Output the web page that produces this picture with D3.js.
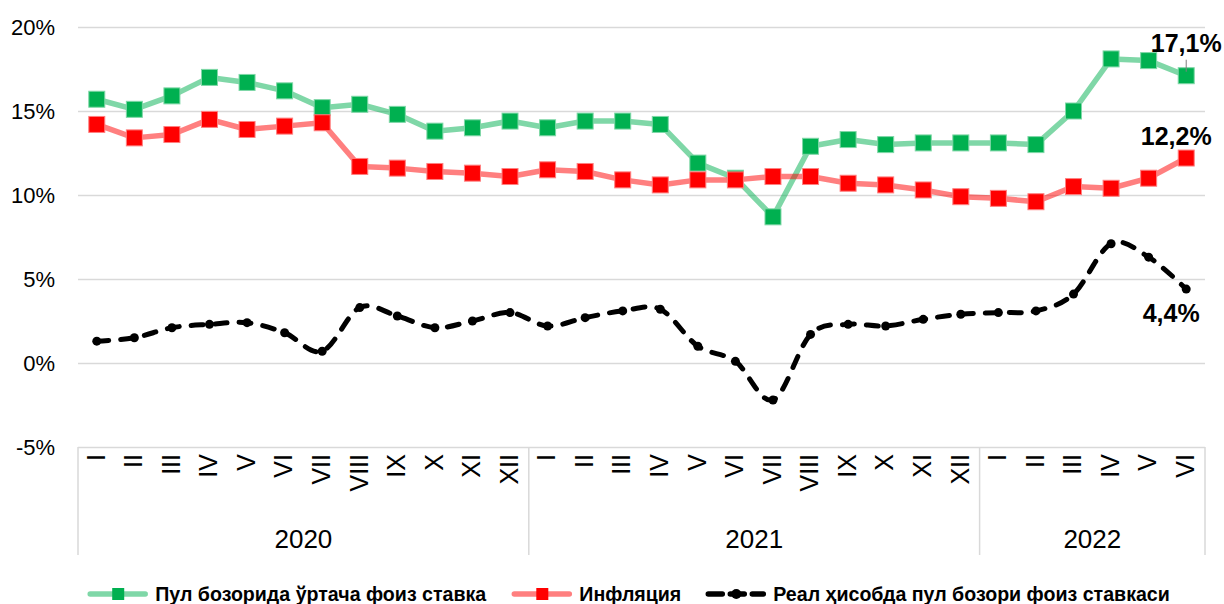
<!DOCTYPE html>
<html>
<head>
<meta charset="utf-8">
<script src="https://cdn.jsdelivr.net/npm/d3@7/dist/d3.min.js"></script>
<style>
  html, body { margin: 0; padding: 0; background: #fff; }
  svg { display: block; font-family: "Liberation Sans", Arial, sans-serif; }
</style>
</head>
<body>
<svg id="chart" width="1224" height="604"></svg>
<script>
// ---- data ----
const months = ["I","II","III","IV","V","VI","VII","VIII","IX","X","XI","XII",
                "I","II","III","IV","V","VI","VII","VIII","IX","X","XI","XII",
                "I","II","III","IV","V","VI"];
const years = ["2020","2021","2022"];
const yearCounts = [12, 12, 6];
const yTicks = [-5, 0, 5, 10, 15, 20];

const moneyRate = [15.7,15.1,15.9,17.0,16.7,16.2,15.2,15.4,14.8,13.8,14.0,14.4,
                   14.0,14.4,14.4,14.2,11.9,11.0,8.7,12.9,13.3,13.0,13.1,13.1,
                   13.1,13.0,15.0,18.1,18.0,17.1];
const inflation = [14.2,13.4,13.6,14.5,13.9,14.1,14.3,11.7,11.6,11.4,11.3,11.1,
                   11.5,11.4,10.9,10.6,10.9,10.9,11.1,11.1,10.7,10.6,10.3,9.9,
                   9.8,9.6,10.5,10.4,11.0,12.2];
const realRate = [1.3,1.5,2.1,2.3,2.4,1.8,0.7,3.3,2.8,2.1,2.5,3.0,
                  2.2,2.7,3.1,3.2,1.0,0.1,-2.2,1.7,2.3,2.2,2.6,2.9,
                  3.0,3.1,4.1,7.1,6.3,4.4];
const seriesNames = ["Пул бозорида ўртача фоиз ставка", "Инфляция", "Реал ҳисобда пул бозори фоиз ставкаси"];
const endLabels = ["17,1%", "12,2%", "4,4%"];

(function() {
// ---- layout ----
const svg = d3.select("#chart");
const L = 78, R = 1205, T = 27, B = 447;
const idx = d3.range(months.length);

const x = d3.scaleBand().domain(idx).range([L, R]).padding(0);
const cx = i => x(i) + x.bandwidth() / 2;
const y = d3.scaleLinear().domain([-5, 20]).range([B, T]);

// gridlines + y labels
const yAxis = d3.axisLeft(y).tickValues(yTicks).tickSize(-(R - L))
  .tickFormat(d => d + "%").tickPadding(23);
const gy = svg.append("g").attr("transform", `translate(${L},0)`).call(yAxis);
gy.select(".domain").remove();
gy.selectAll(".tick line").attr("stroke", "#d9d9d9").attr("stroke-width", 1.5);
gy.selectAll(".tick text").attr("font-size", 22).attr("fill", "#000")
  .attr("font-family", "'Liberation Sans', Arial, sans-serif");

// category separators
const bounds = [0];
yearCounts.forEach((c, k) => bounds.push(bounds[k] + c));
const bx = b => b < months.length ? x(b) : R;
svg.append("g").selectAll("line").data(bounds).join("line")
  .attr("x1", bx).attr("x2", bx)
  .attr("y1", B).attr("y2", 555)
  .attr("stroke", "#d9d9d9").attr("stroke-width", 1.5);

// month labels (rotated)
svg.append("g").selectAll("text").data(idx).join("text")
  .attr("transform", i => `translate(${cx(i) - 1},${B + 7}) rotate(-90)`)
  .attr("text-anchor", "end").attr("dy", "0.35em")
  .attr("font-size", 25).attr("fill", "#000")
  .text(i => months[i]);

// year labels
svg.append("g").selectAll("text").data(years).join("text")
  .attr("x", (d, k) => (bx(bounds[k]) + bx(bounds[k + 1])) / 2)
  .attr("y", 548).attr("text-anchor", "middle")
  .attr("font-size", 26).attr("fill", "#000")
  .text(d => d);

// lines
const line = d3.line().x((d, i) => cx(i)).y(d => y(d));
const smooth = d3.line().x((d, i) => cx(i)).y(d => y(d)).curve(d3.curveCardinal.tension(0));

svg.append("path").datum(moneyRate).attr("d", line)
  .attr("fill", "none").attr("stroke", "#00b050").attr("stroke-opacity", 0.5)
  .attr("stroke-width", 5.5).attr("stroke-linejoin", "round");
svg.append("g").selectAll("rect").data(moneyRate).join("rect")
  .attr("x", (d, i) => cx(i) - 8).attr("y", d => y(d) - 8)
  .attr("width", 16).attr("height", 16)
  .attr("fill", "#00b050").attr("stroke", "#7fd7a7").attr("stroke-width", 1);

svg.append("path").datum(inflation).attr("d", line)
  .attr("fill", "none").attr("stroke", "#ff0000").attr("stroke-opacity", 0.5)
  .attr("stroke-width", 5.5).attr("stroke-linejoin", "round");
svg.append("g").selectAll("rect").data(inflation).join("rect")
  .attr("x", (d, i) => cx(i) - 8).attr("y", d => y(d) - 8)
  .attr("width", 16).attr("height", 16)
  .attr("fill", "#ff0000").attr("stroke", "#ff8080").attr("stroke-width", 1);

svg.append("path").datum(realRate).attr("d", smooth)
  .attr("fill", "none").attr("stroke", "#000")
  .attr("stroke-width", 5).attr("stroke-dasharray", "12,12").attr("stroke-linecap", "round");
svg.append("g").selectAll("circle").data(realRate).join("circle")
  .attr("cx", (d, i) => cx(i)).attr("cy", d => y(d)).attr("r", 4.5).attr("fill", "#000");

// end labels
const last = months.length - 1;
svg.append("line").attr("x1", cx(last)).attr("x2", cx(last))
  .attr("y1", y(moneyRate[last]) - 16).attr("y2", y(moneyRate[last]) - 4)
  .attr("stroke", "#7f7f7f").attr("stroke-width", 1);
svg.append("text").attr("x", cx(last)).attr("y", 52).attr("text-anchor", "middle")
  .attr("font-size", 25).attr("font-weight", "bold").text(endLabels[0]);
svg.append("text").attr("x", cx(last) - 10).attr("y", 145).attr("text-anchor", "middle")
  .attr("font-size", 25).attr("font-weight", "bold").text(endLabels[1]);
svg.append("text").attr("x", cx(last) - 15).attr("y", 322).attr("text-anchor", "middle")
  .attr("font-size", 25).attr("font-weight", "bold").text(endLabels[2]);

// legend
const legend = svg.append("g");
const styles = [
  {line: "#00b050", op: 0.5, marker: "rect", fill: "#00b050", dash: null},
  {line: "#ff0000", op: 0.5, marker: "rect", fill: "#ff0000", dash: null},
  {line: "#000", op: 1, marker: "circle", fill: "#000", dash: "14,8"}
];
const items = legend.selectAll("g").data(seriesNames).join("g");
items.each(function(name, k) {
  const g = d3.select(this);
  const s = styles[k];
  g.append("line").attr("x1", 0).attr("x2", 55).attr("y1", 0).attr("y2", 0)
    .attr("stroke", s.line).attr("stroke-opacity", s.op).attr("stroke-width", 5.5)
    .attr("stroke-linecap", "round")
    .attr("stroke-dasharray", s.dash);
  if (s.marker === "rect") {
    g.append("rect").attr("x", 22).attr("y", -6).attr("width", 12).attr("height", 12).attr("fill", s.fill);
  } else {
    g.append("circle").attr("cx", 28).attr("cy", 0).attr("r", 5).attr("fill", s.fill);
  }
  g.append("text").attr("x", 65).attr("y", 0).attr("dy", "0.35em")
    .attr("font-size", 19.6).attr("font-weight", "bold").attr("fill", "#000").text(name);
});
const widths = [];
items.each(function() { widths.push(this.getBBox().width); });
const gap = 27;
const total = d3.sum(widths) + gap * (widths.length - 1);
let pos = 630 - total / 2;
items.attr("transform", (d, k) => {
  const t = `translate(${pos},594)`;
  pos += widths[k] + gap;
  return t;
});
})();
</script>
</body>
</html>
